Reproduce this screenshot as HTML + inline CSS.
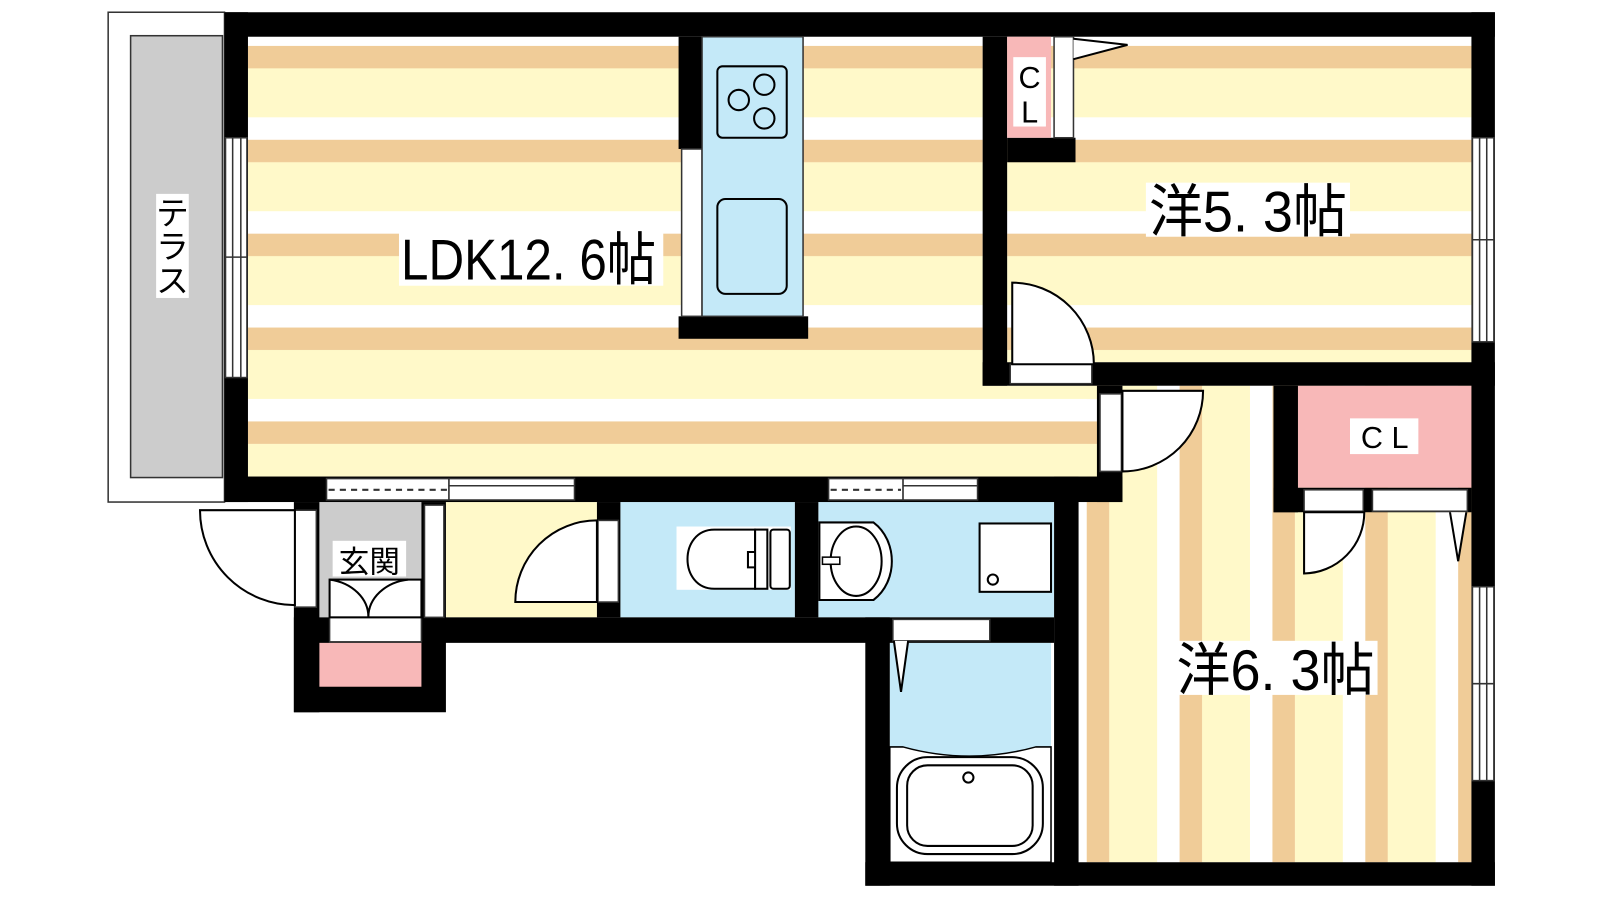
<!DOCTYPE html>
<html><head><meta charset="utf-8"><style>
html,body{margin:0;padding:0;background:#fff;}
svg{display:block;}
text{font-family:"Liberation Sans","Noto Sans CJK JP",sans-serif;fill:#000;}
</style></head><body>
<svg width="1600" height="900" viewBox="0 0 1568 882" xmlns="http://www.w3.org/2000/svg">
<defs>
<pattern id="hs" patternUnits="userSpaceOnUse" x="0" y="45" width="10" height="92">
<rect x="0" y="0" width="10" height="22" fill="#F0CC98"/>
<rect x="0" y="22" width="10" height="48" fill="#FFF9C9"/>
<rect x="0" y="70" width="10" height="22" fill="#fff"/>
</pattern>
<pattern id="vs" patternUnits="userSpaceOnUse" x="1065" y="0" width="91" height="10">
<rect x="0" y="0" width="22" height="10" fill="#F0CC98"/>
<rect x="22" y="0" width="47" height="10" fill="#FFF9C9"/>
<rect x="69" y="0" width="22" height="10" fill="#fff"/>
</pattern>
</defs>

<rect x="106" y="12" width="114" height="480" fill="#fff" stroke="#333" stroke-width="1.5"/>
<rect x="128" y="35" width="90" height="433" fill="#ccc" stroke="#333" stroke-width="1.5"/>
<rect x="153" y="190" width="32" height="102" fill="#fff"/>
<text x="169" y="220" font-size="32" text-anchor="middle">テ</text>
<text x="169" y="253" font-size="32" text-anchor="middle">ラ</text>
<text x="169" y="286" font-size="32" text-anchor="middle">ス</text>

<rect x="1057" y="378" width="385" height="467" fill="url(#vs)"/>
<path d="M243 36 H963 V378 H1075 V467 H243 Z" fill="url(#hs)"/>
<rect x="987" y="36" width="455" height="319" fill="url(#hs)"/>
<rect x="1272" y="378" width="170" height="100" fill="#F8B8B8"/>
<rect x="313" y="492" width="100" height="113" fill="#ccc"/>
<rect x="437" y="492" width="148" height="113" fill="#FFF9C9"/>
<rect x="608" y="492" width="171" height="113" fill="#C4E9F8"/>
<rect x="802" y="492" width="231" height="113" fill="#C4E9F8"/>
<rect x="872" y="630" width="158" height="215" fill="#C4E9F8"/>

<g fill="#000">
<rect x="220" y="12" width="1245" height="24"/>
<rect x="220" y="12" width="23" height="480"/>
<rect x="1442" y="12" width="23" height="856"/>
<rect x="848" y="845" width="617" height="23"/>
<rect x="220" y="467" width="880" height="25"/>
<rect x="963" y="36" width="24" height="342"/>
<rect x="963" y="355" width="502" height="23"/>
<rect x="1075" y="378" width="25" height="114"/>
<rect x="1033" y="467" width="24" height="401"/>
<rect x="1248" y="378" width="24" height="124"/>
<rect x="1248" y="478" width="194" height="24"/>
<rect x="987" y="135" width="67" height="24"/>
<rect x="665" y="36" width="23" height="110"/>
<rect x="665" y="310" width="127" height="22"/>
<rect x="288" y="492" width="25" height="206"/>
<rect x="288" y="605" width="149" height="93"/>
<rect x="413" y="492" width="24" height="138"/>
<rect x="413" y="605" width="620" height="25"/>
<rect x="585" y="492" width="23" height="113"/>
<rect x="779" y="492" width="23" height="113"/>
<rect x="848" y="605" width="24" height="263"/>
</g>

<g fill="#fff" stroke="#333" stroke-width="1.5">
<rect x="221" y="135" width="21" height="235"/>
<line x1="228" y1="135" x2="228" y2="370"/><line x1="236" y1="135" x2="236" y2="370"/>
<line x1="221" y1="252" x2="242" y2="252"/>
<rect x="1443" y="135" width="21" height="200"/>
<line x1="1450" y1="135" x2="1450" y2="335"/><line x1="1457" y1="135" x2="1457" y2="335"/>
<line x1="1443" y1="235" x2="1464" y2="235"/>
<rect x="1443" y="575" width="21" height="190"/>
<line x1="1450" y1="575" x2="1450" y2="765"/><line x1="1457" y1="575" x2="1457" y2="765"/>
<line x1="1443" y1="670" x2="1464" y2="670"/>
<rect x="320" y="469" width="120" height="21"/><rect x="440" y="469" width="123" height="21"/>
<line x1="440" y1="476" x2="563" y2="476"/>
<rect x="812" y="469" width="73" height="21"/><rect x="885" y="469" width="73" height="21"/>
<line x1="885" y1="476" x2="958" y2="476"/>
<rect x="990" y="357" width="80" height="19"/>
<rect x="1078" y="386" width="21" height="76"/>
<rect x="1278" y="480" width="58" height="21"/>
<rect x="1345" y="480" width="93" height="21"/>
<rect x="289" y="500" width="21" height="95"/>
<rect x="586" y="510" width="20" height="80"/>
<rect x="875" y="607" width="95" height="21"/>
<rect x="416" y="495" width="19" height="110"/>
<rect x="323" y="605" width="90" height="24"/>
<rect x="1033" y="36" width="19" height="99"/>
<rect x="668" y="146" width="20" height="164"/>
</g>
<g stroke="#333" stroke-width="2" stroke-dasharray="6,5">
<line x1="322" y1="480" x2="438" y2="480"/><line x1="814" y1="480" x2="883" y2="480"/>
</g>
<rect x="313" y="630" width="100" height="43" fill="#F8B8B8"/>

<g fill="#fff" stroke="#000" stroke-width="2">
<path d="M992 357 V277 A80 80 0 0 1 1072 357 Z"/>
<path d="M1100 383 H1179 A79 79 0 0 1 1100 462 Z"/>
<path d="M1278 502 V562 A60 60 0 0 0 1337 502 Z"/>
<path d="M289 500 H196 A93 93 0 0 0 289 593 Z"/>
<path d="M585 590 H505 A80 80 0 0 1 585 510 Z"/>
<path d="M1421 502 L1429 550 L1437 502"/>
<path d="M876 628 L883 678 L890 628"/>
<path d="M1052 38 L1105 44 L1052 58"/>
<rect x="323" y="568" width="90" height="37"/>
<path d="M323 568 A45 37 0 0 1 361 605 A45 37 0 0 1 400 568" fill="none"/>
</g>

<rect x="987" y="36" width="43" height="99" fill="#F8B8B8"/>
<rect x="993" y="56" width="32" height="68" fill="#fff"/>
<text x="1009" y="86" font-size="30" text-anchor="middle">C</text>
<text x="1009" y="120" font-size="30" text-anchor="middle">L</text>
<rect x="1323" y="410" width="67" height="35" fill="#fff"/>
<text x="1357" y="439" font-size="30" text-anchor="middle">C L</text>

<rect x="688" y="36" width="99" height="274" fill="#C4E9F8" stroke="#333" stroke-width="1.5"/>
<rect x="703" y="65" width="68" height="70" rx="5" fill="none" stroke="#000" stroke-width="2"/>
<g fill="none" stroke="#000" stroke-width="2">
<circle cx="724" cy="98" r="10"/><circle cx="749" cy="83" r="10"/><circle cx="749" cy="116" r="10"/>
</g>
<rect x="703" y="195" width="68" height="93" rx="8" fill="none" stroke="#000" stroke-width="2"/>

<rect x="663" y="516" width="112" height="62" fill="#fff"/>
<path d="M740 519 H700 C665 519 665 577 700 577 H740 V556 H733 V541 H740 Z" fill="#fff" stroke="#000" stroke-width="2"/>
<rect x="740" y="519" width="12" height="58" fill="#fff" stroke="#000" stroke-width="2"/>
<rect x="755" y="519" width="19" height="58" rx="3" fill="#fff" stroke="#000" stroke-width="2"/>
<path d="M803 512 H856 C880 530 880 570 856 588 H803 Z" fill="#fff" stroke="#000" stroke-width="2"/>
<ellipse cx="839" cy="550" rx="25" ry="34" fill="#fff" stroke="#000" stroke-width="2"/>
<rect x="806" y="546" width="17" height="7" fill="#fff" stroke="#000" stroke-width="1.5"/>
<rect x="960" y="513" width="70" height="67" fill="#fff" stroke="#000" stroke-width="2"/>
<circle cx="973" cy="568" r="5" fill="#fff" stroke="#000" stroke-width="2"/>
<path d="M872 732 H885 Q950 750 1015 732 H1030 V845 H872 Z" fill="#fff" stroke="#000" stroke-width="1.5"/>
<rect x="879" y="742" width="143" height="95" rx="30" fill="none" stroke="#000" stroke-width="2"/>
<rect x="889" y="750" width="123" height="79" rx="20" fill="none" stroke="#000" stroke-width="2"/>
<circle cx="949" cy="762" r="5" fill="#fff" stroke="#000" stroke-width="2"/>

<rect x="391" y="226" width="259" height="54" fill="#fff"/>
<text x="393" y="274" font-size="56" textLength="250" lengthAdjust="spacingAndGlyphs">LDK12. 6帖</text>
<rect x="1123" y="179" width="200" height="53" fill="#fff"/>
<text x="1126" y="227" font-size="56" textLength="194" lengthAdjust="spacingAndGlyphs">洋5. 3帖</text>
<rect x="1150" y="628" width="200" height="53" fill="#fff"/>
<text x="1153" y="676" font-size="56" textLength="194" lengthAdjust="spacingAndGlyphs">洋6. 3帖</text>
<rect x="326" y="530" width="72" height="35" fill="#fff"/>
<text x="362" y="561" font-size="30" text-anchor="middle">玄関</text>
</svg>
</body></html>
